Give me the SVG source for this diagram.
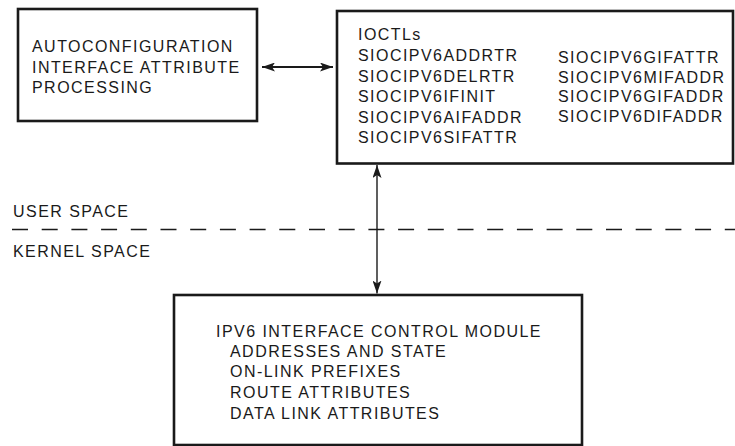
<svg xmlns="http://www.w3.org/2000/svg" width="735" height="446" viewBox="0 0 735 446">
<style>
.box{fill:#fff;stroke:#1a1a1a;stroke-width:2.6}
.t{font-family:"Liberation Sans",Arial,sans-serif;font-size:16px;letter-spacing:1.45px;fill:#1a1a1a}
.c{stroke:#1a1a1a;fill:none}
</style>
<defs>
<marker id="ah" viewBox="0 0 13 9" refX="13" refY="4.5" markerWidth="13" markerHeight="9" markerUnits="userSpaceOnUse" orient="auto-start-reverse">
<path d="M0,0 L13,4.5 L0,9 L3,4.5 Z" fill="#1a1a1a"/>
</marker>
</defs>
<rect x="0" y="0" width="735" height="446" fill="#fff"/>
<g id="autoconfig">
<rect class="box" x="18" y="9" width="239" height="112"/>
<text class="t" x="32" y="52">AUTOCONFIGURATION</text>
<text class="t" x="32" y="73">INTERFACE ATTRIBUTE</text>
<text class="t" x="32" y="93">PROCESSING</text>
</g>
<g id="ioctls">
<rect class="box" x="337" y="11" width="396" height="152.5"/>
<text class="t" x="358" y="40">IOCTLs</text>
<text class="t" x="358" y="61">SIOCIPV6ADDRTR</text>
<text class="t" x="358" y="82">SIOCIPV6DELRTR</text>
<text class="t" x="358" y="102">SIOCIPV6IFINIT</text>
<text class="t" x="358" y="123">SIOCIPV6AIFADDR</text>
<text class="t" x="358" y="143">SIOCIPV6SIFATTR</text>
<text class="t" x="558" y="63">SIOCIPV6GIFATTR</text>
<text class="t" x="558" y="83">SIOCIPV6MIFADDR</text>
<text class="t" x="558" y="102">SIOCIPV6GIFADDR</text>
<text class="t" x="558" y="122">SIOCIPV6DIFADDR</text>
</g>
<g id="space-labels">
<text class="t" x="13" y="217">USER SPACE</text>
<text class="t" x="13" y="257">KERNEL SPACE</text>
<line x1="12" y1="229.5" x2="735" y2="229.5" stroke="#1a1a1a" stroke-width="1.4" stroke-dasharray="16 13.7"/>
</g>
<g id="control-module">
<rect class="box" x="174" y="295" width="408" height="150"/>
<text class="t" x="216" y="337">IPV6 INTERFACE CONTROL MODULE</text>
<text class="t" x="230" y="357">ADDRESSES AND STATE</text>
<text class="t" x="230" y="377">ON-LINK PREFIXES</text>
<text class="t" x="230" y="398">ROUTE ATTRIBUTES</text>
<text class="t" x="230" y="419">DATA LINK ATTRIBUTES</text>
</g>
<g id="connectors">
<line class="c" x1="262" y1="67" x2="333" y2="67" stroke-width="2.2" marker-start="url(#ah)" marker-end="url(#ah)"/>
<line class="c" x1="377" y1="165" x2="377" y2="293.5" stroke-width="1.4" marker-start="url(#ah)" marker-end="url(#ah)"/>
</g>
</svg>
